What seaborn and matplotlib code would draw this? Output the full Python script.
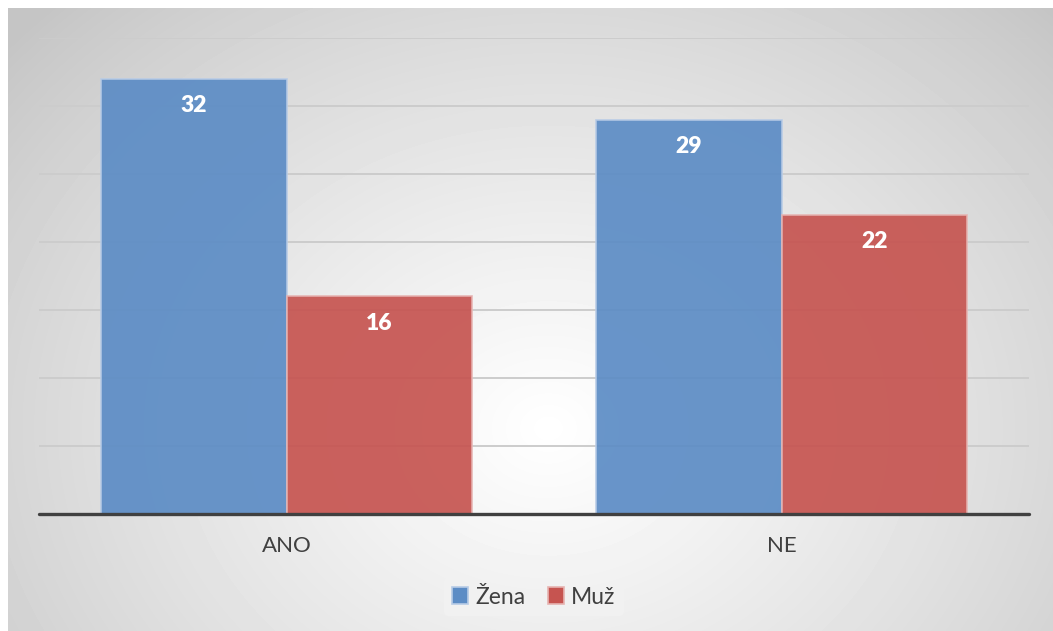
# %%
# set up
import numpy as np
import pandas as pd
import seaborn as sns
from matplotlib import pyplot as plt

sns.set_style('white')
plt.rcParams['font.family'] = ['Lato', 'DejaVu Sans']

categories = ['ANO', 'NE']
groups = ['Žena', 'Muž']
zena = [32, 29]
muz = [16, 22]
colors = ['#5C8CC5', '#C65450']
edge_colors = ['#b7cbe6', '#e6b3b1']

df = pd.DataFrame({
    'odpoved': categories * 2,
    'pohlavi': [groups[0]] * len(zena) + [groups[1]] * len(muz),
    'pocet': zena + muz,
})

# %%
W, H = 1053, 631
fig = plt.figure(figsize=(W / 100, H / 100), dpi=100)
fig.patch.set_facecolor('white')

# radial gradient background (like the excel chart area)
bg = fig.add_axes([8 / W, 0, 1 - 8 / W, 1 - 8 / H], zorder=-10)
yy, xx = np.mgrid[0:623, 0:1045]
r = np.hypot((xx - 540) / 1.15, (yy - 420) / 0.95)
shade = np.clip(1 - r / 620, 0, 1) ** 0.85
img = 0.77 + (1 - 0.77) * shade
bg.imshow(img, cmap='gray', vmin=0, vmax=1, aspect='auto', interpolation='bilinear')
bg.axis('off')

ax = fig.add_axes([39 / W, 1 - 514 / H, 990 / W, 476 / H])
ax.set_facecolor('none')

sns.barplot(data=df, x='odpoved', y='pocet', hue='pohlavi', order=categories,
            hue_order=groups, palette=colors, saturation=1, width=0.75,
            alpha=0.92, ax=ax, legend=False, zorder=3)

for i, cont in enumerate(ax.containers):
    for bar in cont:
        bar.set_edgecolor(edge_colors[i])
        bar.set_linewidth(1.2)
        ax.annotate(f'{bar.get_height():.0f}',
                    (bar.get_x() + bar.get_width() / 2, bar.get_height()),
                    xytext=(0, -19.5), textcoords='offset points',
                    ha='center', va='center', color='white',
                    fontsize=16.5, fontweight='heavy', zorder=5)

ax.set_ylim(0, 35)
ax.set_xlim(-0.5, 1.5)
ax.set_yticks(range(5, 36, 5))
ax.yaxis.grid(True, color='#cccccc', lw=1.4, zorder=0)
ax.set_axisbelow(True)
ax.set_yticklabels([])
ax.axhline(0, color='#404040', lw=2.4, zorder=6, clip_on=False)
for s in ax.spines.values():
    s.set_visible(False)
ax.tick_params(axis='x', length=0, pad=16, labelsize=16, labelcolor='#404040')
ax.tick_params(axis='y', length=0)
ax.set_xlabel('')
ax.set_ylabel('')

handles = [plt.Rectangle((0, 0), 1, 1, facecolor=c, edgecolor=e, lw=1.2)
           for c, e in zip(colors, edge_colors)]
leg = fig.legend(handles, groups, loc='center', bbox_to_anchor=(534 / W, 1 - 597 / H),
                 ncol=2, frameon=True, fontsize=16.5, handlelength=0.7, handleheight=0.7,
                 handletextpad=0.3, columnspacing=1.0, borderpad=0.35)
leg.get_frame().set_facecolor('#f2f2f2')
leg.get_frame().set_edgecolor('none')
leg.get_frame().set_alpha(0.8)
for t in leg.get_texts():
    t.set_color('#404040')

fig.savefig('out.png', dpi=100)
